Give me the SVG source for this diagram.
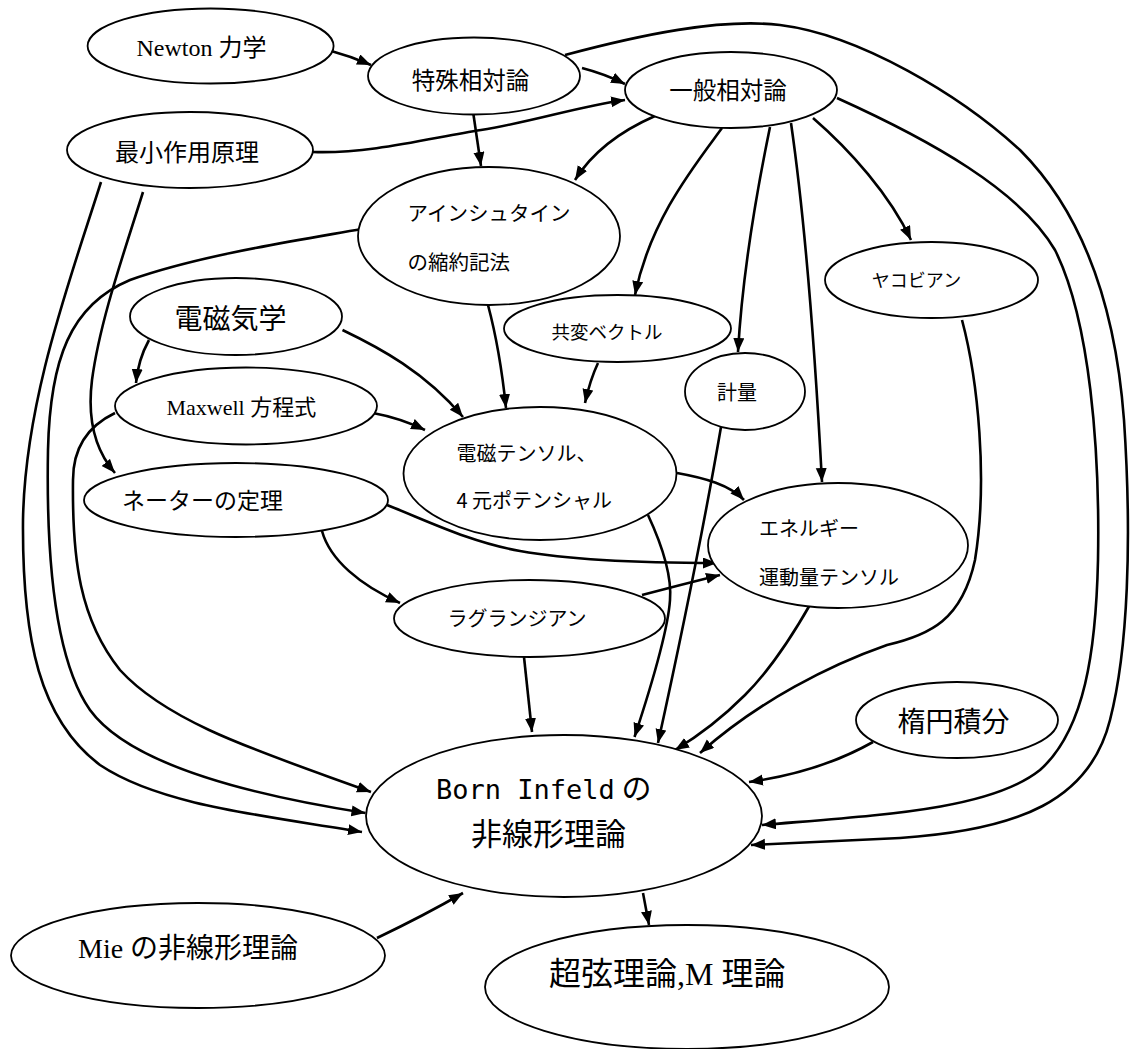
<svg xmlns="http://www.w3.org/2000/svg" width="1130" height="1049" viewBox="0 0 1130 1049">
<style>
.n{fill:#fff;stroke:#000;stroke-width:1.8}
.c{fill:none;stroke:#000;stroke-width:2.6}
.j{font-family:"Noto Sans CJK JP","Noto Sans",sans-serif;fill:#000}
.s{font-family:"Liberation Serif",serif}
.m{font-family:"DejaVu Sans Mono",monospace}
</style>
<defs>
<marker id="a" markerUnits="userSpaceOnUse" markerWidth="16" markerHeight="12" refX="14" refY="5.5" orient="auto">
<path d="M0,0 L14,5.5 L0,11 z" fill="#000"/>
</marker>
</defs>
<rect width="1130" height="1049" fill="#fff"/>
<g id="connectors" marker-end="url(#a)">
<path class="c" d="M328,50 Q350,56 371,65"/>
<path class="c" d="M582,68 Q605,74 625,84"/>
<path class="c" d="M313,152 C370,154 430,138 481,130 S580,106 625,100"/>
<path class="c" d="M472.5,108 L481,166"/>
<path class="c" d="M655,116 Q600,140 575,180"/>
<path class="c" d="M722,128 C695,165 650,220 635,295"/>
<path class="c" d="M770,127 C755,200 742,280 738,352"/>
<path class="c" d="M791,123 C805,220 815,350 822,482"/>
<path class="c" d="M813,118 C850,150 890,195 911,240"/>
<path class="c" d="M837,98 C930,140 1020,190 1055,250 C1090,320 1100,450 1098,560 C1096,650 1085,730 1040,770 C990,810 880,815 762,825"/>
<path class="c" d="M565,55 C640,35 720,18 780,25 C860,35 960,95 1020,150 C1080,210 1115,300 1124,420 C1132,540 1128,650 1110,720 C1090,800 1020,830 900,838 L751,845"/>
<path class="c" d="M962,320 C978,380 988,480 975,560 C962,620 930,635 887,645 C830,665 760,700 700,753"/>
<path class="c" d="M811,603 C790,640 770,670 745,695 C725,715 700,735 675,750"/>
<path class="c" d="M648,515 C662,545 672,575 670,600 C668,630 650,690 634.5,737"/>
<path class="c" d="M721,427 C705,520 685,620 658,743"/>
<path class="c" d="M873,742 Q820,772 749,782"/>
<path class="c" d="M524,657 L532,732"/>
<path class="c" d="M642,595 Q680,585 720,575"/>
<path class="c" d="M322,531 C330,560 360,585 400,603"/>
<path class="c" d="M387,505 C430,522 470,542 520,551 C570,560 640,563 717,563"/>
<path class="c" d="M677,473 C705,478 730,485 744,500"/>
<path class="c" d="M149,340 Q138,360 136,383"/>
<path class="c" d="M342.5,330 C380,348 425,372 463,417"/>
<path class="c" d="M373,413 Q400,418 425,430"/>
<path class="c" d="M488,305 Q500,350 506,408"/>
<path class="c" d="M598,363 Q590,380 585,403"/>
<path class="c" d="M143,192 C125,250 100,320 92,380 C87,420 95,450 115,473"/>
<path class="c" d="M101,182 C70,280 25,400 23,520 C22,640 40,720 100,765 C160,805 260,815 362,832"/>
<path class="c" d="M361.6,229 C300,240 200,255 130,280 C70,305 50,360 48,450 C46,560 55,660 90,710 C130,765 250,795 365.5,813"/>
<path class="c" d="M115,413 C90,425 73,445 73,480 C72,560 80,620 120,670 C170,725 270,755 371,792"/>
<path class="c" d="M377,938 Q425,915 463,893"/>
<path class="c" d="M643,893 L649,925"/>
</g>
<g id="newton"><ellipse class="n" cx="210.6" cy="46" rx="123" ry="37.5"/><text class="j" x="136.5" y="55.5" font-size="24"><tspan class="s">Newton </tspan>力学</text></g>
<g id="tokushu"><ellipse class="n" cx="474" cy="76" rx="106" ry="38.5"/><text class="j" x="470.5" y="88.5" font-size="23.5" text-anchor="middle">特殊相対論</text></g>
<g id="ippan"><ellipse class="n" cx="731" cy="90" rx="106" ry="38"/><text class="j" x="728" y="99" font-size="23.5" text-anchor="middle">一般相対論</text></g>
<g id="saisho"><ellipse class="n" cx="190" cy="150" rx="123" ry="38"/><text class="j" x="187" y="161" font-size="24" text-anchor="middle">最小作用原理</text></g>
<g id="einstein"><ellipse class="n" cx="489" cy="236" rx="131" ry="69"/><text class="j" x="407.6" y="220.5" font-size="20.5">アインシュタイン</text><text class="j" x="407.6" y="269.5" font-size="20.5">の縮約記法</text></g>
<g id="jacobian"><ellipse class="n" cx="931.5" cy="280" rx="106.5" ry="38"/><text class="j" x="916.5" y="286.5" font-size="18" text-anchor="middle">ヤコビアン</text></g>
<g id="denjiki"><ellipse class="n" cx="236" cy="316.5" rx="106" ry="38.5"/><text class="j" x="230.5" y="328.5" font-size="28" text-anchor="middle">電磁気学</text></g>
<g id="kyohen"><ellipse class="n" cx="617.5" cy="328.5" rx="113.5" ry="33.5"/><text class="j" x="607" y="339" font-size="18.5" text-anchor="middle">共変ベクトル</text></g>
<g id="keiryo"><ellipse class="n" cx="745" cy="391.5" rx="60" ry="38.5"/><text class="j" x="737" y="399.5" font-size="20" text-anchor="middle">計量</text></g>
<g id="maxwell"><ellipse class="n" cx="246" cy="406" rx="131" ry="38.5"/><text class="j" x="166.5" y="415" font-size="22"><tspan class="s">Maxwell </tspan>方程式</text></g>
<g id="tensor"><ellipse class="n" cx="540" cy="473.5" rx="136.5" ry="66.5"/><text class="j" x="456.5" y="460.5" font-size="20">電磁テンソル、</text><text class="j" x="456.5" y="507.5" font-size="20">4 元ポテンシャル</text></g>
<g id="noether"><ellipse class="n" cx="236" cy="500" rx="152" ry="37"/><text class="j" x="122" y="508.5" font-size="23">ネーターの定理</text></g>
<g id="lagrangian"><ellipse class="n" cx="529.5" cy="618.5" rx="135.5" ry="38.5"/><text class="j" x="517" y="625.5" font-size="20" text-anchor="middle">ラグランジアン</text></g>
<g id="energy"><ellipse class="n" cx="838" cy="545.5" rx="130" ry="62.5"/><text class="j" x="759" y="535.5" font-size="20">エネルギー</text><text class="j" x="759" y="584.5" font-size="20">運動量テンソル</text></g>
<g id="daen"><ellipse class="n" cx="957" cy="720" rx="101" ry="38"/><text class="j" x="953.5" y="732" font-size="28" text-anchor="middle">楕円積分</text></g>
<g id="born"><ellipse class="n" cx="564" cy="816" rx="198" ry="81"/><text class="j" x="436" y="799" font-size="30"><tspan class="m" font-size="27">Born Infeld</tspan> の</text><text class="j" x="471" y="845" font-size="31">非線形理論</text></g>
<g id="mie"><ellipse class="n" cx="198" cy="955.5" rx="187" ry="52.5"/><text class="j" x="78" y="957.5" font-size="28"><tspan class="s">Mie </tspan>の非線形理論</text></g>
<g id="superstring"><ellipse class="n" cx="687" cy="987" rx="202" ry="62"/><text class="j" x="549" y="985" font-size="32">超弦理論<tspan class="s">,M </tspan>理論</text></g>
</svg>
